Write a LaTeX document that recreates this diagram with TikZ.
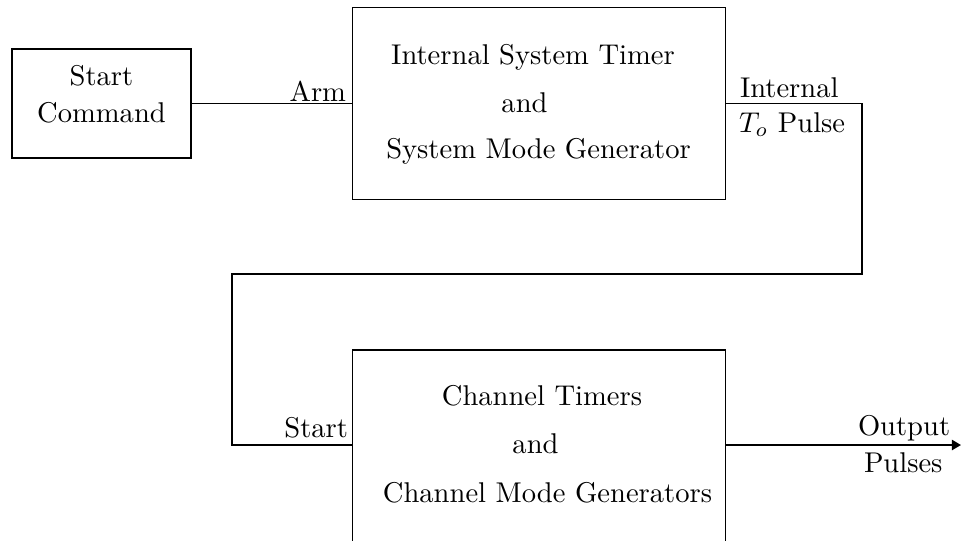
\documentclass[tikz,border=0pt]{standalone}
\usetikzlibrary{arrows.meta}
\begin{document}
\begin{tikzpicture}[x=0.35pt, y=-0.35pt, line width=0.6pt,
  blk/.style={draw, rectangle, inner sep=0pt, outer sep=0pt},
  txt/.style={anchor=base, inner sep=0pt, outer sep=0pt},
  wire/.style={draw},
  outarrow/.style={-{Triangle[length=3.2pt, width=3.6pt]}}]
\useasboundingbox (0,0) rectangle (961,540);

% blocks
\node[blk, minimum width=179*0.35pt, minimum height=109*0.35pt] (cmd) at (101.5,103.5) {};
\node[blk, minimum width=373*0.35pt, minimum height=192*0.35pt] (timer) at (539,103.5) {};
\node[blk, minimum width=373*0.35pt, minimum height=200*0.35pt] (chan) at (539,450) {};

% block texts
\node[txt] (cmd1) at (101.5,85) {Start};
\node[txt] (cmd2) at (101.5,122) {Command};
\node[txt] (tim1) at (533,64) {Internal System Timer};
\node[txt] (tim2) at (524.5,112) {and};
\node[txt] (tim3) at (538.5,158) {System Mode Generator};
\node[txt] (ch1) at (542,405) {Channel Timers};
\node[txt] (ch2) at (535.5,453) {and};
\node[txt] (ch3) at (547.5,502) {Channel Mode Generators};

% routing points
\coordinate (r1) at (862,103.5);
\coordinate (r2) at (862,274);
\coordinate (l1) at (232,274);
\coordinate (l2) at (232,445);
\coordinate (out) at (961,445);

% connectors
\draw[wire] (cmd.east) -- (timer.west);
\draw[wire] (timer.east) -- (r1) -- (r2) -- (l1) -- (l2) -- (chan.west |- l2);
\draw[wire, outarrow] (chan.east |- out) -- (out);

% connector labels
\node[txt, anchor=base east] (arm) at (346,101) {Arm};
\node[txt, anchor=base west] (int1) at (740,97) {Internal};
\node[txt, anchor=base west] (int2) at (739,132) {$T_o$ Pulse};
\node[txt, anchor=base east] (st) at (348,437) {Start};
\node[txt, anchor=base west] (op1) at (858,435) {Output};
\node[txt, anchor=base west] (op2) at (864,472) {Pulses};
\end{tikzpicture}
\end{document}
